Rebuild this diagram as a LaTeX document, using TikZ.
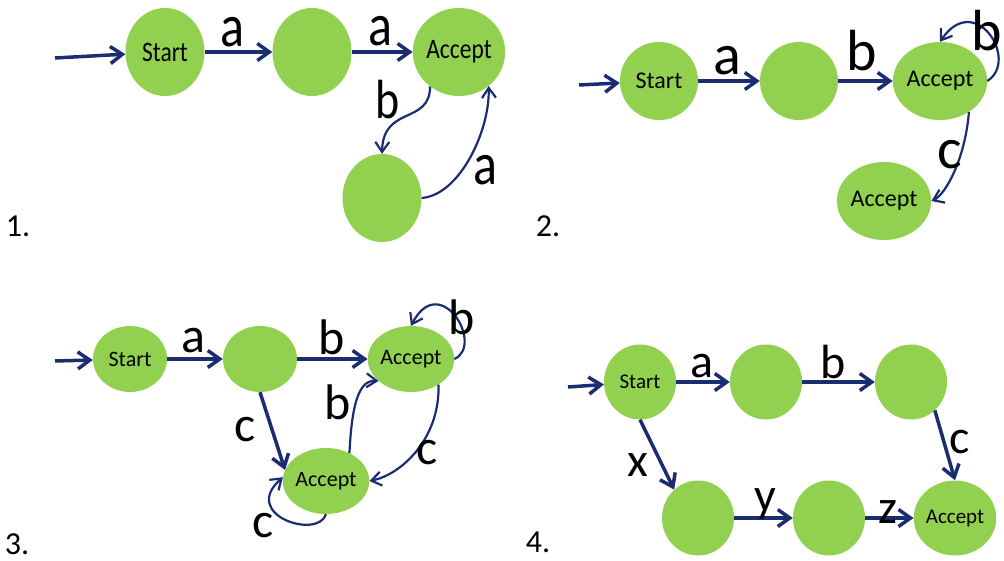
\documentclass[tikz,border=0pt]{standalone}
\usepackage{fontspec}
\setmainfont{Carlito}
\usetikzlibrary{arrows.meta,shapes.geometric}
\definecolor{stgreen}{RGB}{146,208,80}
\definecolor{arrblue}{RGB}{25,45,112}
\newcommand{\tall}[1]{\scalebox{1}[1.2]{#1}}

\begin{document}
\begin{tikzpicture}[x=1pt, y=-1pt, >={Straight Barb[length=12pt,width=17pt]},
	   st/.style={ellipse, fill=stgreen, inner sep=0pt},
	   ar/.style={->, draw=arrblue, line width=3.5pt},
	   arc/.style={-{Straight Barb[length=10pt,width=14pt]}, draw=arrblue, line width=2.2pt},
	   lab/.style={inner sep=0pt, font=\fontsize{#1}{#1}\selectfont},
	   num/.style={inner sep=0pt, font=\fontsize{32}{32}\selectfont}]
	  \useasboundingbox (0,0) rectangle (1004,561);
	  % 1.
	  \begin{scope}[st/.append style={minimum width=79pt, minimum height=88pt, font=\fontsize{23.5}{24}\selectfont}]
	  \node[st] (s1) at (165,52) {\tall{Start}};
	  \node[st] (m1) at (312,52) {};
	  \node[st] (f1) at (459,52) {\tall{Accept}};
	  \node[st] (q1) at (382,198) {};
	  \coordinate (i1) at (55,58);
	  \draw[ar] (i1) -- (s1); \draw[ar] (s1) -- (m1); \draw[ar] (m1) -- (f1);
	  \draw[arc] (f1.-130) .. controls (430,125) and (383,105) .. (q1.north);
	  \draw[arc] (q1.east) .. controls (460,195) and (490,130) .. (f1.-49);
	  \node[lab=50] (l1a) at (232,32) {\tall{a}};
	  \node[lab=50] (l1b) at (380,31) {\tall{a}};
	  \node[lab=46] (l1c) at (388,100) {\tall{b}};
	  \node[lab=50] (l1d) at (485,170) {\tall{a}};
	  \node[num] (n1) at (18,226) {1.};
	  \end{scope}
	  % 2.
	  \begin{scope}[st/.append style={minimum width=78pt, minimum height=78pt, font=\fontsize{24}{24}\selectfont}]
	  \node[st] (s2) at (659,81) {Start};
	  \node[st] (m2) at (799,81) {};
	  \node[st] (f2) at (940,81) {Accept};
	  \node[st] (g2) at (884,201) {Accept};
	  \coordinate (i2) at (579,85);
	  \draw[ar] (i2) -- (s2); \draw[ar] (s2) -- (m2); \draw[ar] (m2) -- (f2);
	  \draw[arc] (f2.east) .. controls (1020,60) and (975,-10) .. (f2.north);
	  \draw[arc] (f2.-47) .. controls (965,160) and (945,195) .. (g2.east);
	  \node[lab=58] (l2a) at (727,61) {a};
	  \node[lab=58] (l2b) at (862,51) {b};
	  \node[lab=58] (l2c) at (987,31) {b};
	  \node[lab=58] (l2d) at (950,155) {c};
	  \node[num] (n2) at (548,226) {2.};
	  \end{scope}
	  % 3.
	  \begin{scope}[st/.append style={minimum width=74pt, minimum height=66pt, font=\fontsize{22}{22}\selectfont}]
	  \node[st] (s3) at (130,359) {Start};
	  \node[st] (m3) at (260,359) {};
	  \node[st] (f3) at (411,359) {Accept};
	  \node[st] (g3) at (326,481) {Accept};
	  \coordinate (i3) at (55,361);
	  \draw[ar] (i3) -- (s3); \draw[ar] (s3) -- (m3); \draw[ar] (m3) -- (f3);
	  \draw[ar] (m3.south) -- (g3.165);
	  \draw[arc] (f3.east) .. controls (485,345) and (440,270) .. (f3.north);
	  \draw[arc] (g3.50) .. controls (352,400) and (360,380) .. (f3.-146);
	  \draw[arc] (f3.-43) .. controls (440,440) and (400,475) .. (g3.east);
	  \draw[arc] (g3.south) .. controls (318,540) and (240,515) .. (g3.175);
	  \node[lab=50] (l3a) at (193,341) {a};
	  \node[lab=50] (l3b) at (332,337) {b};
	  \node[lab=50] (l3c) at (462,317) {b};
	  \node[lab=50] (l3d) at (245,430) {c};
	  \node[lab=50] (l3e) at (338,402) {b};
	  \node[lab=50] (l3f) at (427,453) {c};
	  \node[lab=50] (l3g) at (263,526) {c};
	  \node[num] (n3) at (17,544) {3.};
	  \end{scope}
	  % 4.
	  \begin{scope}[st/.append style={minimum width=72pt, minimum height=75pt, font=\fontsize{21}{21}\selectfont}]
	  \node[st] (s4) at (640,382) {Start};
	  \node[st] (m4) at (766,382) {};
	  \node[st] (n4) at (911,382) {};
	  \node[st] (p4) at (698,518) {};
	  \node[st] (q4) at (829,518) {};
	  \node[st] (f4) at (955,518) {Accept};
	  \coordinate (i4) at (568,387);
	  \draw[ar] (i4) -- (s4); \draw[ar] (s4) -- (m4); \draw[ar] (m4) -- (n4);
	  \draw[ar] (n4.-50) -- (f4.north);
	  \draw[ar] (s4.south) -- (p4.130);
	  \draw[ar] (p4) -- (q4); \draw[ar] (q4) -- (f4);
	  \node[lab=48] (l4a) at (702,366) {a};
	  \node[lab=48] (l4b) at (833,362) {b};
	  \node[lab=48] (l4c) at (960,442) {c};
	  \node[lab=48] (l4d) at (638,465) {x};
	  \node[lab=48] (l4e) at (765,504) {y};
	  \node[lab=48] (l4f) at (888,512) {z};
	  \node[num] (n4x) at (538,542) {4.};
	  \end{scope}
	\end{tikzpicture}
\end{document}
